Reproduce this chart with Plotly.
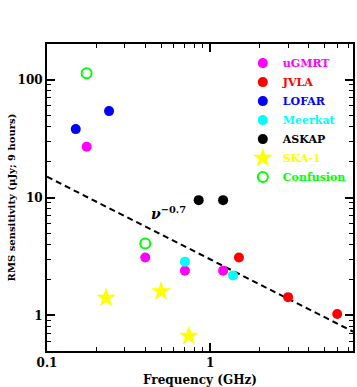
import plotly.graph_objects as go

# ---- data ----
ugmrt_freq = [0.175, 0.40, 0.70, 1.20]
ugmrt_rms = [26.9, 3.1, 2.4, 2.4]

jvla_freq = [1.5, 3.0, 6.0]
jvla_rms = [3.1, 1.43, 1.03]

lofar_freq = [0.15, 0.24]
lofar_rms = [38.0, 54.0]

meerkat_freq = [0.70, 1.38]
meerkat_rms = [2.86, 2.18]

askap_freq = [0.85, 1.20]
askap_rms = [9.5, 9.5]

ska_freq = [0.23, 0.50, 0.74]
ska_rms = [1.41, 1.60, 0.67]

conf_freq = [0.175, 0.40]
conf_rms = [113.0, 4.07]

line_freq = [0.1, 7.5]
line_rms = [15.0, 0.73]

FONT = "DejaVu Serif"

def lbl(name, color):
    return f"<span style='color:{color}'>{name}</span>"

fig = go.Figure()

fig.add_trace(go.Scatter(x=line_freq, y=line_rms, mode="lines",
                         line=dict(color="black", width=2, dash="6px,4px"),
                         showlegend=False, hoverinfo="skip"))

series = [
    ("uGMRT", ugmrt_freq, ugmrt_rms, "#ff00ff", "circle", 10),
    ("JVLA", jvla_freq, jvla_rms, "#ff0000", "circle", 10),
    ("LOFAR", lofar_freq, lofar_rms, "#0000ff", "circle", 10),
    ("Meerkat", meerkat_freq, meerkat_rms, "#00ffff", "circle", 10),
    ("ASKAP", askap_freq, askap_rms, "#000000", "circle", 10),
    ("SKA-1", ska_freq, ska_rms, "#ffff00", "star", 15),
]
for name, xs, ys, col, sym, sz in series:
    fig.add_trace(go.Scatter(x=xs, y=ys, mode="markers", name=lbl(name, col),
                             marker=dict(color=col, symbol=sym, size=sz,
                                         line=dict(width=0))))

fig.add_trace(go.Scatter(x=conf_freq, y=conf_rms, mode="markers",
                         name=lbl("Confusion", "#00ff00"),
                         marker=dict(symbol="circle-open", size=10, color="#00ff00",
                                     line=dict(width=2, color="#00ff00"))))

fig.add_annotation(x=-0.378, y=0.869, xref="x", yref="y",
                   text="<i>ν</i><sup>−0.7</sup>", showarrow=False,
                   xanchor="left", yanchor="middle",
                   font=dict(family=FONT, size=14, color="black", weight="bold"))

axis_common = dict(type="log", showgrid=False, zeroline=False,
                   showline=True, linecolor="black", linewidth=2, mirror="ticks",
                   ticks="inside", ticklen=8, tickwidth=1.5, tickcolor="black",
                   tickmode="linear", tick0=0, dtick=1,
                   minor=dict(ticks="inside", ticklen=4, tickwidth=1.2, dtick="D1",
                              tickcolor="black", showgrid=False),
                   tickfont=dict(family=FONT, size=12, color="black", weight="bold"))

fig.update_xaxes(**axis_common, range=[-1, 0.875],
                 title=dict(text="Frequency (GHz)", standoff=6,
                            font=dict(family=FONT, size=12, color="black", weight="bold")))
fig.update_yaxes(**axis_common, range=[-0.301, 2.301],
                 title=dict(text="RMS sensitivity (μJy; 9 hours)", standoff=0,
                            font=dict(family=FONT, size=10, color="black", weight="bold")))

fig.update_layout(
    width=357, height=387,
    margin=dict(l=47, r=2, t=44, b=34),
    paper_bgcolor="white", plot_bgcolor="white",
    legend=dict(x=0.64, y=0.985, xanchor="left", yanchor="top",
                bgcolor="rgba(0,0,0,0)", borderwidth=0,
                font=dict(family=FONT, size=11, color="black", weight="bold"),
                itemwidth=30, tracegroupgap=0),
)

fig.write_html("out.html", config={"displayModeBar": False},
               post_script="document.body.style.margin='0';document.body.style.padding='0';")
